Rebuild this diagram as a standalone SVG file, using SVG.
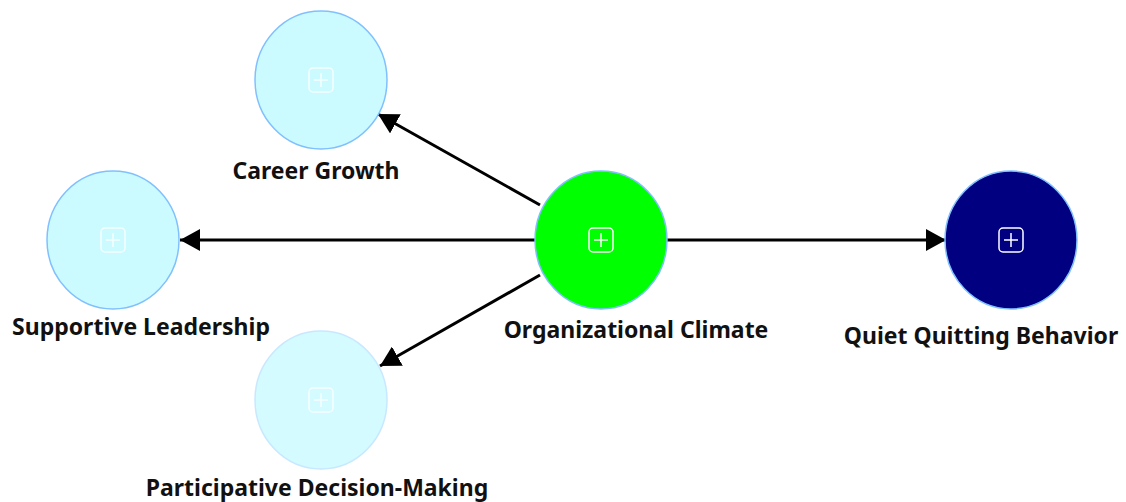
<svg xmlns="http://www.w3.org/2000/svg" width="1126" height="502" viewBox="0 0 1126 502">
<style>
.lbl{font-family:"Noto Sans","Liberation Sans",sans-serif;font-weight:bold;font-size:23px;fill:#111;text-anchor:middle}
.edge{stroke:#000;stroke-width:3;fill:none}
.icon{fill:none;stroke:#fff;stroke-width:1.5}
.light{fill:#ccfbff;stroke:#80c0ff;stroke-width:1.5}
</style>
<defs>
<marker id="ah" markerWidth="20" markerHeight="22" refX="20" refY="11" orient="auto" markerUnits="userSpaceOnUse" viewBox="0 0 20 22">
<path d="M0,0 L20,11 L0,22 z" fill="#000"/>
</marker>
<g id="plus"><rect x="-12" y="-12" width="24" height="24" rx="4" class="icon"/><path d="M-7,0 H7 M0,-7 V7" class="icon"/></g>
</defs>
<g id="connectors">
<line x1="540" y1="205" x2="378" y2="114" class="edge" marker-end="url(#ah)"/>
<line x1="535" y1="240" x2="180" y2="240" class="edge" marker-end="url(#ah)"/>
<line x1="540" y1="275" x2="380" y2="366" class="edge" marker-end="url(#ah)"/>
<line x1="667" y1="240" x2="946" y2="240" class="edge" marker-end="url(#ah)"/>
</g>
<g id="career-growth">
<ellipse cx="321" cy="80" rx="66" ry="69" class="light"/>
<use href="#plus" x="321" y="80" opacity="0.8"/>
<text x="316" y="179" class="lbl">Career Growth</text>
</g>
<g id="supportive-leadership">
<ellipse cx="113" cy="240" rx="66" ry="69" class="light"/>
<use href="#plus" x="113" y="240" opacity="0.8"/>
<text x="141" y="335" class="lbl">Supportive Leadership</text>
</g>
<g id="participative-decision-making">
<ellipse cx="321" cy="400" rx="66" ry="69" fill="#d4fbff" stroke="#c8e8ff" stroke-width="1.5"/>
<use href="#plus" x="321" y="400" opacity="0.8"/>
<text x="317" y="496" class="lbl">Participative Decision-Making</text>
</g>
<g id="organizational-climate">
<ellipse cx="601" cy="240" rx="66" ry="69" fill="#00ff00" stroke="#80c0ff" stroke-width="1.5"/>
<use href="#plus" x="601" y="240"/>
<text x="636" y="338" class="lbl">Organizational Climate</text>
</g>
<g id="quiet-quitting-behavior">
<ellipse cx="1011" cy="240" rx="66" ry="69" fill="#000080" stroke="#80c0ff" stroke-width="1.5"/>
<use href="#plus" x="1011" y="240"/>
<text x="981" y="344" class="lbl">Quiet Quitting Behavior</text>
</g>
</svg>
